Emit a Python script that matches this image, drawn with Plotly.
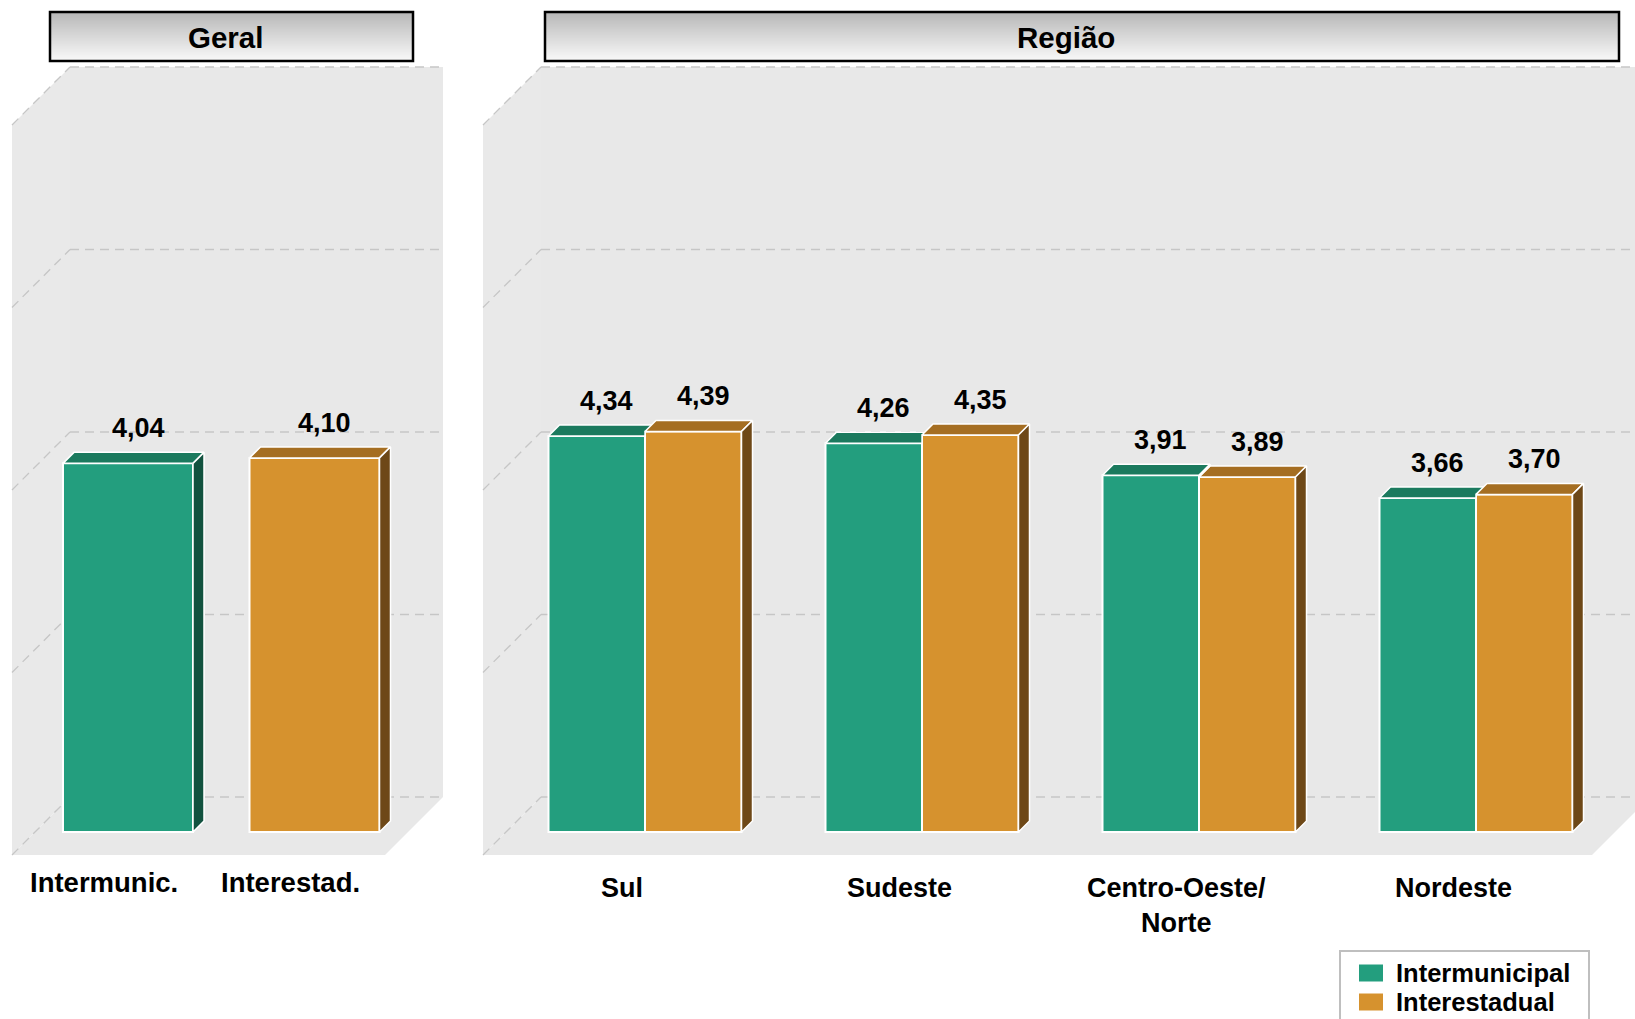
import plotly.graph_objects as go

W, H = 1635, 1019

# ---------------- data ----------------
panel_titles = ["Geral", "Região"]
series_names = ["Intermunicipal", "Interestadual"]

geral_cats = ["Intermunic.", "Interestad."]
geral_vals = [4.04, 4.10]

regiao_cats = ["Sul", "Sudeste", "Centro-Oeste/<br>Norte", "Nordeste"]
intermunicipal = [4.34, 4.26, 3.91, 3.66]
interestadual = [4.39, 4.35, 3.89, 3.70]

grid_values = [0, 2, 4, 6, 8]

# ---------------- style ----------------
GREEN, GREEN_TOP, GREEN_SIDE = "#239E7E", "#1B7A5E", "#12523F"
ORANGE, ORANGE_TOP, ORANGE_SIDE = "#D6922E", "#A56E22", "#6E4817"
WALL, SIDE_WALL, GRID = "#E8E8E8", "#E9E9E9", "#C6C6C6"
FONT = "Liberation Sans, Arial, sans-serif"

# ---------------- geometry (pixels) ----------------
PLOT_TOP, PLOT_BOTTOM = 60, 860      # vertical extent of both plotting areas
BASE_PX = 832                         # pixel row of value 0 on the bar front plane
PX_PER_UNIT = 91.25
BAR_DEPTH = 11                        # 45 degree extrusion of the bars
WALL_BACK = 35                        # bar front plane -> back wall
WALL_DEPTH = 58                       # floor front edge -> back wall

panels = [
    dict(left=12, right=443, c0=128, step=186.5, wall_right=443,
         box=(50, 413), title_x=225, label_top=865, xa="x", ya="y"),
    dict(left=483, right=1635, c0=645, step=277, wall_right=1650,
         box=(545, 1619), title_x=1066, label_top=871, xa="x2", ya="y2"),
]


def px_y(v):
    return BASE_PX - v * PX_PER_UNIT


def paper_pt(x, y):
    return f"{x / W:.5f},{1 - y / H:.5f}"


def paper_path(pts):
    return "M " + " L ".join(paper_pt(x, y) for x, y in pts) + " Z"


fig = go.Figure()
shapes = []
annotations = []

# ---------------- walls, floor and gridlines ----------------
for p in panels:
    back_left = p["left"] + WALL_DEPTH
    wall_top = px_y(grid_values[-1]) - WALL_BACK
    wall_bottom = px_y(0) - WALL_BACK
    # back wall
    shapes.append(dict(type="path", xref="paper", yref="paper", layer="below",
                       path=paper_path([(back_left, wall_top), (p["wall_right"], wall_top),
                                        (p["wall_right"], wall_bottom), (back_left, wall_bottom)]),
                       fillcolor=WALL, line=dict(width=0)))
    # floor
    shapes.append(dict(type="path", xref="paper", yref="paper", layer="below",
                       path=paper_path([(back_left, wall_bottom), (p["wall_right"], wall_bottom),
                                        (p["wall_right"] - WALL_DEPTH, wall_bottom + WALL_DEPTH),
                                        (p["left"], wall_bottom + WALL_DEPTH)]),
                       fillcolor=WALL, line=dict(width=0)))
    # side wall
    shapes.append(dict(type="path", xref="paper", yref="paper", layer="below",
                       path=paper_path([(p["left"], wall_top + WALL_DEPTH), (back_left, wall_top),
                                        (back_left, wall_bottom), (p["left"], wall_bottom + WALL_DEPTH)]),
                       fillcolor=SIDE_WALL, line=dict(width=0)))
    # dashed gridlines on back and side walls
    for g in grid_values:
        yb = px_y(g) - WALL_BACK
        shapes.append(dict(type="line", xref="paper", yref="paper", layer="below",
                           x0=back_left / W, x1=p["wall_right"] / W, y0=1 - yb / H, y1=1 - yb / H,
                           line=dict(color=GRID, width=1.3, dash="9px,6px")))
        shapes.append(dict(type="line", xref="paper", yref="paper", layer="below",
                           x0=p["left"] / W, x1=back_left / W,
                           y0=1 - (yb + WALL_DEPTH) / H, y1=1 - yb / H,
                           line=dict(color=GRID, width=1.3, dash="9px,6px")))

# ---------------- panel headers ----------------
HDR_TOP, HDR_BOTTOM = 12, 61
for p, title in zip(panels, panel_titles):
    x0, x1 = p["box"]
    n = 49
    for i in range(n):
        t = i / (n - 1)
        c = int(184 + (249 - 184) * t)
        ya = HDR_TOP + (HDR_BOTTOM - HDR_TOP) * i / n
        yb = HDR_TOP + (HDR_BOTTOM - HDR_TOP) * (i + 1) / n
        shapes.append(dict(type="rect", xref="paper", yref="paper", layer="above",
                           x0=x0 / W, x1=x1 / W, y0=1 - yb / H, y1=1 - ya / H,
                           fillcolor=f"rgb({c},{c},{c})", line=dict(width=0)))
    shapes.append(dict(type="rect", xref="paper", yref="paper", layer="above",
                       x0=x0 / W, x1=x1 / W, y0=1 - HDR_BOTTOM / H, y1=1 - HDR_TOP / H,
                       line=dict(color="black", width=2.5)))
    annotations.append(dict(text=f"<b>{title}</b>", xref="paper", yref="paper",
                            x=p["title_x"] / W, y=1 - 38 / H, showarrow=False,
                            xanchor="center", yanchor="middle",
                            font=dict(family=FONT, size=29.5, color="black")))


def face(xs_ys, color, xa, ya):
    xs = [pt[0] for pt in xs_ys] + [xs_ys[0][0]]
    ys = [pt[1] for pt in xs_ys] + [xs_ys[0][1]]
    fig.add_trace(go.Scatter(x=xs, y=ys, mode="lines", fill="toself", fillcolor=color,
                             line=dict(color="white", width=1.5), hoverinfo="skip",
                             showlegend=False, xaxis=xa, yaxis=ya))


def fmt(v):
    return f"{v:.2f}".replace(".", ",")


def value_label(x, v, xa, ya):
    annotations.append(dict(text=f"<b>{fmt(v)}</b>", xref=xa, yref=ya, x=x, y=v,
                            xshift=10, yshift=35, showarrow=False,
                            xanchor="center", yanchor="middle",
                            font=dict(family=FONT, size=27, color="black")))


# ---------------- panel 1: Geral ----------------
p = panels[0]
ddx, ddy = BAR_DEPTH / p["step"], BAR_DEPTH / PX_PER_UNIT
w1 = 130 / p["step"]
colors1 = [(GREEN, GREEN_TOP, GREEN_SIDE), (ORANGE, ORANGE_TOP, ORANGE_SIDE)]
for i, (v, name) in enumerate(zip(geral_vals, series_names)):
    front, top, side = colors1[i]
    fig.add_trace(go.Bar(x=[i], y=[v], width=w1, name=name, showlegend=False,
                         marker=dict(color=front, line=dict(color="white", width=2)),
                         xaxis="x", yaxis="y", hoverinfo="skip"))
for i, v in enumerate(geral_vals):
    front, top, side = colors1[i]
    xl, xr = i - w1 / 2, i + w1 / 2
    face([(xl, v), (xr, v), (xr + ddx, v + ddy), (xl + ddx, v + ddy)], top, "x", "y")
    face([(xr, 0), (xr, v), (xr + ddx, v + ddy), (xr + ddx, ddy)], side, "x", "y")
    value_label(i, v, "x", "y")
for i, cat in enumerate(geral_cats):
    annotations.append(dict(text=f"<b>{cat}</b>", xref="x", yref="paper", x=i,
                            y=1 - p["label_top"] / H, xshift=-24, showarrow=False,
                            xanchor="center", yanchor="top",
                            font=dict(family=FONT, size=27.5, color="black")))

# ---------------- panel 2: Região ----------------
p = panels[1]
ddx, ddy = BAR_DEPTH / p["step"], BAR_DEPTH / PX_PER_UNIT
w2 = 96.5 / p["step"]
xs = list(range(len(regiao_cats)))
fig.add_trace(go.Bar(x=xs, y=intermunicipal, width=w2, offset=-w2, name=series_names[0],
                     marker=dict(color=GREEN, line=dict(color="white", width=2)),
                     showlegend=False, xaxis="x2", yaxis="y2", hoverinfo="skip"))
fig.add_trace(go.Bar(x=xs, y=interestadual, width=w2, offset=0, name=series_names[1],
                     marker=dict(color=ORANGE, line=dict(color="white", width=2)),
                     showlegend=False, xaxis="x2", yaxis="y2", hoverinfo="skip"))

for k, (vl, vr) in enumerate(zip(intermunicipal, interestadual)):
    gl, gm, gr = k - w2, k, k + w2
    if vl <= vr:
        # left top face, trimmed where the taller right bar hides it
        if vr >= vl + ddy:
            pts = [(gl, vl), (gm, vl), (gm, vl + ddy), (gl + ddx, vl + ddy)]
        else:
            f = (vr - vl) / ddy
            pts = [(gl, vl), (gm, vl), (gm, vr), (gm + f * ddx, vr),
                   (gm + ddx, vl + ddy), (gl + ddx, vl + ddy)]
        face(pts, GREEN_TOP, "x2", "y2")
        face([(gm, vr), (gr, vr), (gr + ddx, vr + ddy), (gm + ddx, vr + ddy)], ORANGE_TOP, "x2", "y2")
        face([(gr, 0), (gr, vr), (gr + ddx, vr + ddy), (gr + ddx, ddy)], ORANGE_SIDE, "x2", "y2")
    else:
        face([(gm, vr), (gr, vr), (gr + ddx, vr + ddy), (gm + ddx, vr + ddy)], ORANGE_TOP, "x2", "y2")
        face([(gr, 0), (gr, vr), (gr + ddx, vr + ddy), (gr + ddx, ddy)], ORANGE_SIDE, "x2", "y2")
        face([(gl, vl), (gm, vl), (gm + ddx, vl + ddy), (gl + ddx, vl + ddy)], GREEN_TOP, "x2", "y2")
        face([(gm, vr), (gm, vl), (gm + ddx, vl + ddy), (gm + ddx, vr + ddy)], GREEN_SIDE, "x2", "y2")
    value_label(k - w2 / 2, vl, "x2", "y2")
    value_label(k + w2 / 2, vr, "x2", "y2")

for k, cat in enumerate(regiao_cats):
    annotations.append(dict(text=f"<b>{cat}</b>", xref="x2", yref="paper", x=k,
                            y=1 - p["label_top"] / H, xshift=-23, showarrow=False,
                            xanchor="center", yanchor="top",
                            font=dict(family=FONT, size=27, color="black")))

# ---------------- legend ----------------
LEG = dict(left=1340, top=951, right=1589, bottom=1040)
shapes.append(dict(type="rect", xref="paper", yref="paper", layer="above",
                   x0=LEG["left"] / W, x1=LEG["right"] / W,
                   y0=1 - LEG["bottom"] / H, y1=1 - LEG["top"] / H,
                   fillcolor="white", line=dict(color="#BFBFBF", width=2)))
for j, (name, col) in enumerate(zip(series_names, [GREEN, ORANGE])):
    yc = 973 + 29 * j
    shapes.append(dict(type="rect", xref="paper", yref="paper", layer="above",
                       x0=1359 / W, x1=1383 / W, y0=1 - (yc + 8.5) / H, y1=1 - (yc - 8.5) / H,
                       fillcolor=col, line=dict(width=0)))
    annotations.append(dict(text=f"<b>{name}</b>", xref="paper", yref="paper",
                            x=1394 / W, y=1 - yc / H, showarrow=False,
                            xanchor="left", yanchor="middle",
                            font=dict(family=FONT, size=25.5, color="black")))

# ---------------- axes ----------------
y_range = [(BASE_PX - PLOT_BOTTOM) / PX_PER_UNIT, (BASE_PX - PLOT_TOP) / PX_PER_UNIT]
y_domain = [1 - PLOT_BOTTOM / H, 1 - PLOT_TOP / H]
axes = {}
for idx, pnl in enumerate(panels):
    suffix = "" if idx == 0 else str(idx + 1)
    axes["xaxis" + suffix] = dict(domain=[pnl["left"] / W, pnl["right"] / W],
                                  range=[(pnl["left"] - pnl["c0"]) / pnl["step"],
                                         (pnl["right"] - pnl["c0"]) / pnl["step"]],
                                  visible=False, fixedrange=True, anchor="y" + suffix)
    axes["yaxis" + suffix] = dict(domain=y_domain, range=y_range, visible=False,
                                  fixedrange=True, anchor="x" + suffix)

fig.update_layout(
    width=W, height=H, autosize=False,
    margin=dict(l=0, r=0, t=0, b=0),
    paper_bgcolor="white", plot_bgcolor="rgba(0,0,0,0)",
    barmode="overlay", showlegend=False,
    shapes=shapes, annotations=annotations,
    font=dict(family=FONT),
    **axes,
)

fig.write_html("out.html")
